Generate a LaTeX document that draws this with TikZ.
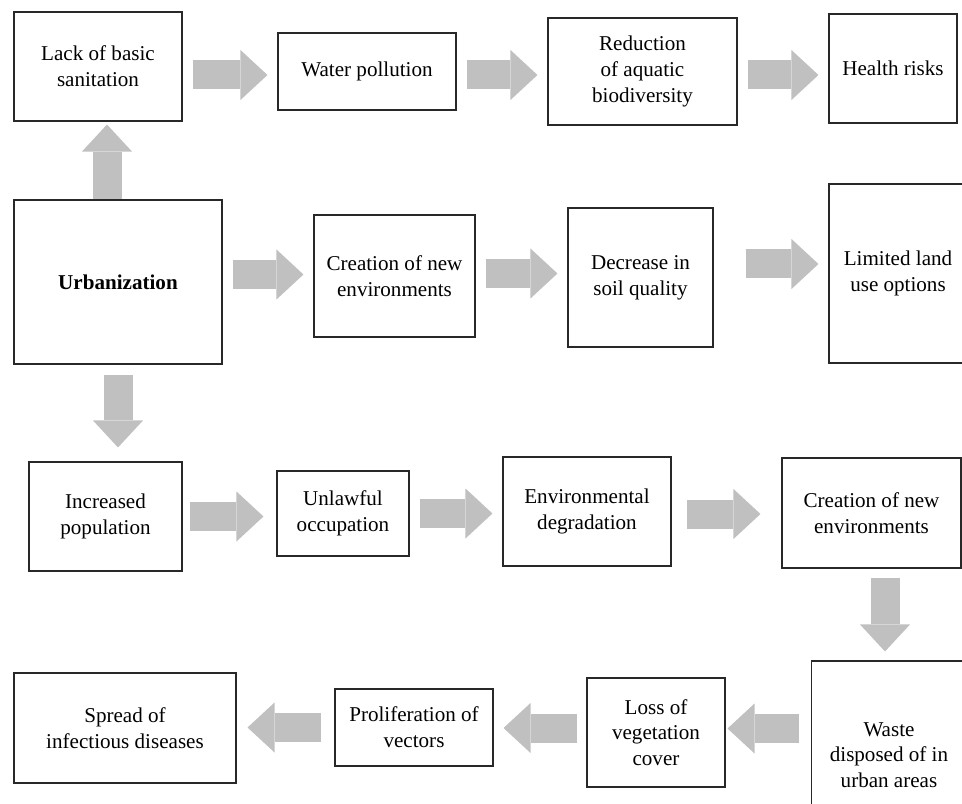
\documentclass[tikz,border=0pt]{standalone}
\usepackage{fontspec}
\setmainfont{Liberation Serif}
\usetikzlibrary{arrows.meta}
\definecolor{arrowgray}{RGB}{192,192,192}
\definecolor{boxline}{RGB}{40,40,40}

\begin{document}
\begin{tikzpicture}[
box/.style={draw=boxline,line width=0.6pt,rectangle,inner sep=2pt,align=center,font=\fontsize{12}{14.6}\selectfont},
fat/.style={arrowgray,line width=0.58cm,-{Triangle[length=0.54cm,width=1.0cm,line width=0pt]},shorten <=0.2cm,shorten >=0.2cm}]

\useasboundingbox (0,0) rectangle (19.24,-16.08);
\clip (0,0) rectangle (19.24,-16.08);

% first row
\draw (1.96,-1.33) node[box,minimum width=3.36cm,minimum height=2.18cm] (lack) {Lack of basic\\sanitation};
\draw (7.34,-1.43) node[box,minimum width=3.56cm,minimum height=1.54cm] (water) {Water pollution};
\draw (12.85,-1.43) node[box,minimum width=3.78cm,minimum height=2.14cm] (reduc) {Reduction\\of aquatic\\biodiversity};
\draw (17.86,-1.37) node[box,minimum width=2.56cm,minimum height=2.18cm] (health) {Health risks};

% second row
\draw (2.36,-5.64) node[box,minimum width=4.16cm,minimum height=3.28cm] (urban) {\textbf{Urbanization}};
\draw (7.89,-5.52) node[box,minimum width=3.22cm,minimum height=2.44cm] (creat1) {Creation of new\\environments};
\draw (12.81,-5.55) node[box,minimum width=2.90cm,minimum height=2.78cm] (decr) {Decrease in\\soil quality};
\draw (17.96,-5.47) node[box,minimum width=2.76cm,minimum height=3.58cm] (limit) {Limited land\\use options};

% third row
\draw (2.11,-10.33) node[box,minimum width=3.06cm,minimum height=2.18cm] (incr) {Increased\\population};
\draw (6.86,-10.27) node[box,minimum width=2.64cm,minimum height=1.70cm] (unlaw) {Unlawful\\occupation};
\draw (11.74,-10.23) node[box,minimum width=3.36cm,minimum height=2.18cm] (envir) {Environmental\\degradation};
\draw (17.43,-10.26) node[box,minimum width=3.58cm,minimum height=2.20cm] (creat2) {Creation of new\\environments};

% fourth row
\draw (17.78,-15.10) node[box,minimum width=3.10cm,minimum height=3.76cm] (waste) {Waste\\disposed of in\\urban areas};
\draw (13.12,-14.65) node[box,minimum width=2.76cm,minimum height=2.18cm] (loss) {Loss of\\vegetation\\cover};
\draw (8.28,-14.55) node[box,minimum width=3.16cm,minimum height=1.54cm] (prolif) {Proliferation of\\vectors};
\draw (2.50,-14.56) node[box,minimum width=4.44cm,minimum height=2.20cm] (spread) {Spread of\\infectious diseases};

% arrows
\draw[fat] ([yshift=-0.17cm]lack.east) -- ([yshift=-0.17cm]lack.east -| water.west);
\draw[fat] ([yshift=-0.07cm]water.east) -- ([yshift=-0.07cm]water.east -| reduc.west);
\draw[fat] ([yshift=-0.07cm]reduc.east) -- ([yshift=-0.07cm]reduc.east -| health.west);
\draw[fat,shorten <=0cm,shorten >=0.06cm] ([xshift=0.18cm]lack.south |- urban.north) -- ([xshift=0.18cm]lack.south);
\draw[fat] ([yshift=0.15cm]urban.east) -- ([yshift=0.15cm]urban.east -| creat1.west);
\draw[fat] ([yshift=0.05cm]creat1.east) -- ([yshift=0.05cm]creat1.east -| decr.west);
\draw[fat,shorten <=0.64cm] ([yshift=0.27cm]decr.east) -- ([yshift=0.27cm]decr.east -| limit.west);
\draw[fat,shorten >=0.28cm] (urban.south) -- (urban.south |- incr.north);
\draw[fat,shorten <=0.14cm,shorten >=0.26cm] (incr.east) -- (incr.east -| unlaw.west);
\draw[fat] (unlaw.east) -- (unlaw.east -| envir.west);
\draw[fat,shorten <=0.3cm,shorten >=0.42cm] ([yshift=-0.05cm]envir.east) -- ([yshift=-0.05cm]envir.east -| creat2.west);
\draw[fat,shorten <=0.18cm,shorten >=0.18cm] ([xshift=0.27cm]creat2.south) -- ([xshift=0.27cm]creat2.south |- waste.north);
\draw[fat,shorten <=0.24cm,shorten >=0.04cm] ([yshift=0.53cm]waste.west) -- ([yshift=0.53cm]waste.west -| loss.east);
\draw[fat,shorten <=0.18cm] ([yshift=0.09cm]loss.west) -- ([yshift=0.09cm]loss.west -| prolif.east);
\draw[fat,shorten <=0.26cm,shorten >=0.22cm] (prolif.west) -- (prolif.west -| spread.east);

\end{tikzpicture}
\end{document}
